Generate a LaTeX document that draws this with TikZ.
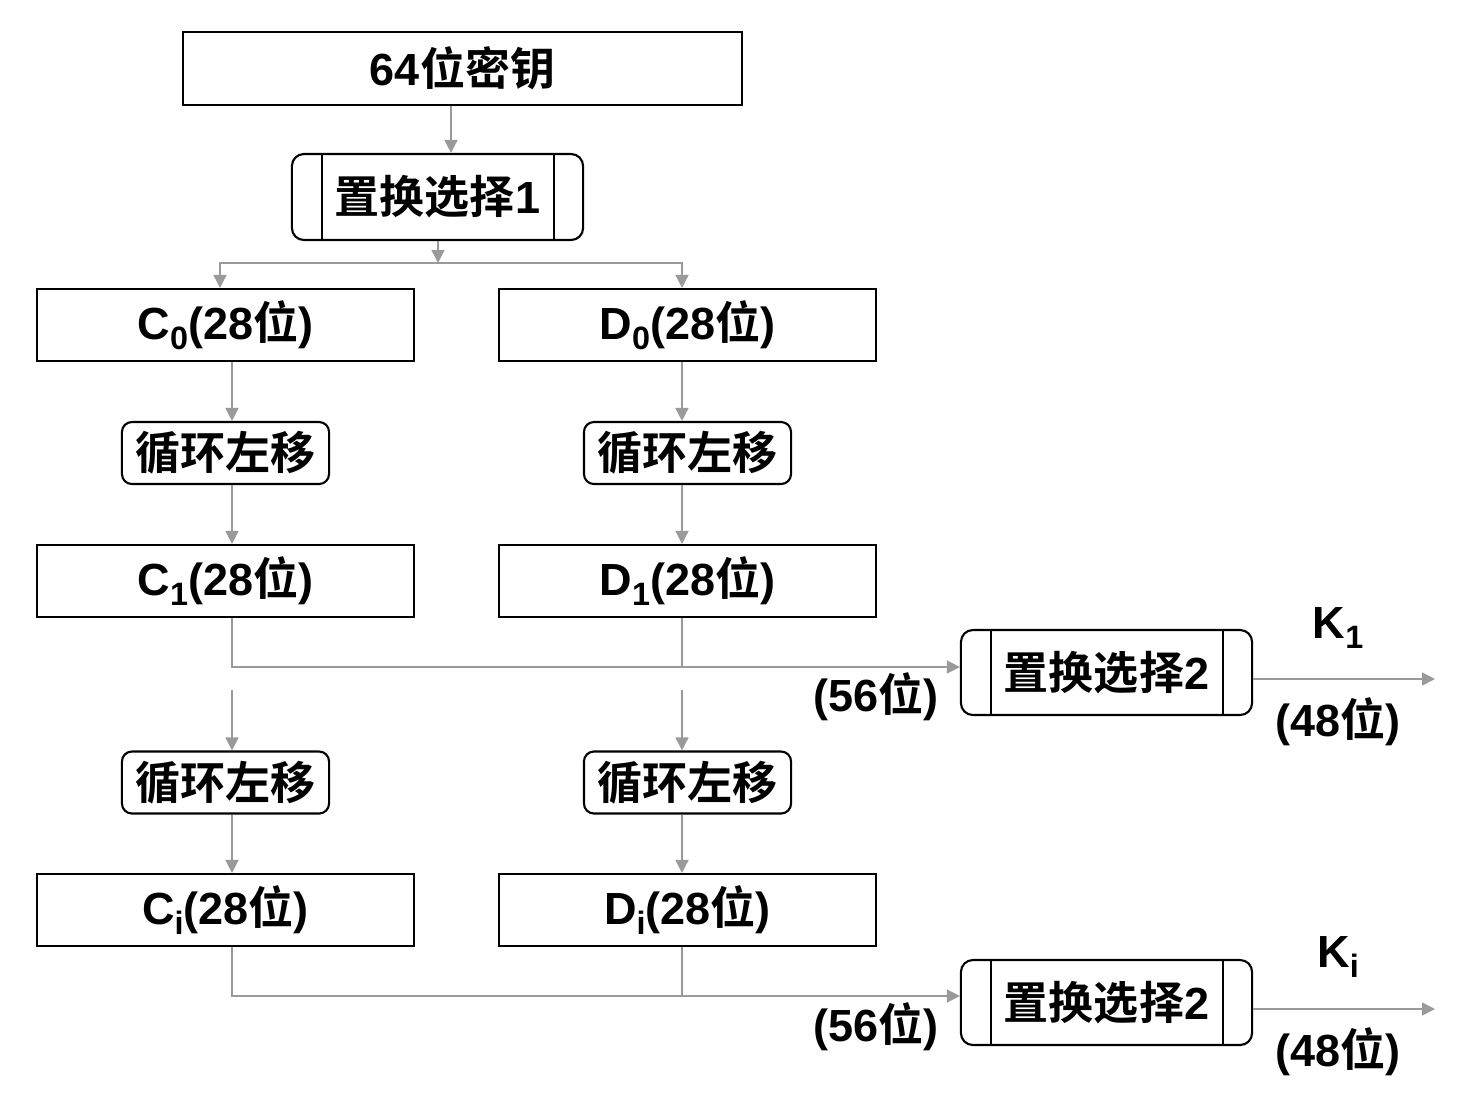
\documentclass[tikz,border=0pt]{standalone}
\usepackage{fontspec}
\setmainfont{Liberation Sans}
\newfontfamily\cjk{Noto Sans CJK SC}[BoldFont={Noto Sans CJK SC Bold}]
\newcommand{\zh}[1]{{\cjk #1}}
\newcommand{\subi}[1]{\raisebox{-0.22em}{\fontsize{9.2}{10}\selectfont #1}}
\newcommand{\kfonte}{\fontsize{12.8}{15}\selectfont\bfseries}
\usetikzlibrary{positioning,arrows.meta}
\definecolor{kcinza}{HTML}{9A9A9A}
\tikzset{
  kbloco/.style={draw=black, line width=0.6pt, minimum width=3.77cm, minimum height=0.72cm,
                 inner sep=0pt, font=\kfonte},
  kdesloca/.style={draw=black, line width=0.6pt, rounded corners=0.1cm, minimum width=2.07cm,
                 minimum height=0.62cm, inner sep=0pt, font=\kfonte},
  kprocesso/.style={draw=black, line width=0.6pt, rounded corners=0.12cm, minimum width=2.91cm,
                 minimum height=0.86cm, inner sep=0pt, font=\kfonte,
                 path picture={
                   \draw[line width=0.6pt] ([xshift=0.3cm]path picture bounding box.north west)
                     -- ([xshift=0.3cm]path picture bounding box.south west);
                   \draw[line width=0.6pt] ([xshift=-0.29cm]path picture bounding box.north east)
                     -- ([xshift=-0.29cm]path picture bounding box.south east);}},
  kseta/.style={-{Triangle[length=0.13cm, width=0.13cm]}, draw=kcinza, line width=0.45pt},
  klinha/.style={draw=kcinza, line width=0.45pt},
  krotulo/.style={font=\kfonte, inner sep=0pt},
}
\begin{document}
\begin{tikzpicture}[x=0.01cm, y=-0.01cm]
    \useasboundingbox (0,0) rectangle (1460,1114);
    % ---------------- chave e permutacao inicial ----------------
    \node[kbloco, minimum width=5.59cm, minimum height=0.73cm] (chave) at (462.5,68.5) {64\zh{位密钥}};
    \node[kprocesso] (pc1) at (437.5,197) {\zh{置换选择}1};
    % ---------------- metades C e D ----------------
    \node[kbloco] (c0) at (225.5,325) {C\subi{0}(28\zh{位})};
    \node[kbloco] (d0) at (687.5,325) {D\subi{0}(28\zh{位})};
    \node[kdesloca] (ce1) at (225.5,453) {\zh{循环左移}};
    \node[kdesloca] (de1) at (687.5,453) {\zh{循环左移}};
    \node[kbloco] (c1) at (225.5,581) {C\subi{1}(28\zh{位})};
    \node[kbloco] (d1) at (687.5,581) {D\subi{1}(28\zh{位})};
    \node[kdesloca] (ce2) at (225.5,782.5) {\zh{循环左移}};
    \node[kdesloca] (de2) at (687.5,782.5) {\zh{循环左移}};
    \node[kbloco] (ci) at (225.5,910) {C\subi{i}(28\zh{位})};
    \node[kbloco] (di) at (687.5,910) {D\subi{i}(28\zh{位})};
    % ---------------- permutacao de compressao ----------------
    \node[kprocesso, minimum height=0.85cm] (pc2a) at (1106.5,672.5) {\zh{置换选择}2};
    \node[kprocesso, minimum height=0.85cm] (pc2b) at (1106.5,1002.5) {\zh{置换选择}2};
    % ---------------- rotulos ----------------
    \node[krotulo] (b56a) at (876,697) {(56\zh{位})};
    \node[krotulo] (k1) at (1338,628) {K\subi{1}};
    \node[krotulo] (b48a) at (1338,722) {(48\zh{位})};
    \node[krotulo] (b56b) at (876,1027) {(56\zh{位})};
    \node[krotulo] (ki) at (1338,957) {K\subi{i}};
    \node[krotulo] (b48b) at (1338,1052) {(48\zh{位})};
    % ---------------- pontos auxiliares ----------------
    \coordinate (xk) at (451,0);
    \coordinate (div) at (438,263);
    \coordinate (xs) at (220,0);
    \coordinate (xe) at (232,0);
    \coordinate (xd) at (682,0);
    \coordinate (j1) at (682,667);
    \coordinate (j2) at (682,996);
    \coordinate (ie) at (232,690);
    \coordinate (id) at (682,690);
    \coordinate (s1) at (1435,679);
    \coordinate (s2) at (1435,1009);
    % ---------------- setas ----------------
    \draw[kseta] (chave.south -| xk) -- (pc1.north -| xk);
    \draw[kseta] (pc1.south -| div) -- (div);
    \draw[kseta] (div) -| (c0.north -| xs);
    \draw[kseta] (div) -| (d0.north -| xd);
    \draw[kseta] (c0.south -| xe) -- (ce1.north -| xe);
    \draw[kseta] (d0.south -| xd) -- (de1.north -| xd);
    \draw[kseta] (ce1.south -| xe) -- (c1.north -| xe);
    \draw[kseta] (de1.south -| xd) -- (d1.north -| xd);
    \draw[kseta] (c1.south -| xe) |- (pc2a.west |- j1);
    \draw[klinha] (d1.south -| xd) -- (j1);
    \draw[kseta] (ie) -- (ce2.north -| xe);
    \draw[kseta] (id) -- (de2.north -| xd);
    \draw[kseta] (ce2.south -| xe) -- (ci.north -| xe);
    \draw[kseta] (de2.south -| xd) -- (di.north -| xd);
    \draw[kseta] (ci.south -| xe) |- (pc2b.west |- j2);
    \draw[klinha] (di.south -| xd) -- (j2);
    \draw[kseta] (pc2a.east |- s1) -- (s1);
    \draw[kseta] (pc2b.east |- s2) -- (s2);
\end{tikzpicture}
\end{document}
